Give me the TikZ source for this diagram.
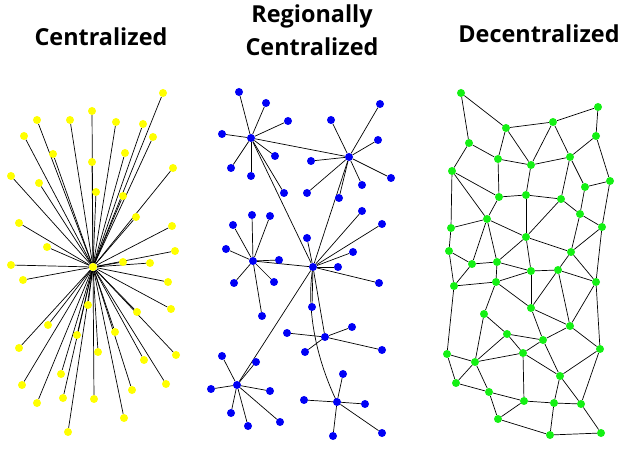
\documentclass[tikz,border=0pt]{standalone}
\usepackage{fontspec}
\setmainfont{Open Sans}
\usetikzlibrary{backgrounds}
\definecolor{ydot}{RGB}{255,255,0}
\definecolor{bdot}{RGB}{0,0,245}
\definecolor{gdot}{RGB}{20,240,20}
\tikzset{
  dotbase/.style={circle,inner sep=0pt,minimum size=8pt,draw=none},
  ynode/.style={dotbase,fill=ydot},
  bnode/.style={dotbase,fill=bdot},
  gnode/.style={dotbase,fill=gdot},
  link/.style={black,line width=0.7pt},
  title/.style={font=\bfseries\fontsize{23.4}{33}\selectfont,align=center,inner sep=0pt}
}
\begin{document}
\begin{tikzpicture}[x=1pt,y=-1pt]
\useasboundingbox (0,0) rectangle (638,449);
\begin{scope}[on background layer]
\fill[white] (0,0) rectangle (638,449);
\end{scope}
% titles
\node[title] (t1) at (101,37) {Centralized};
\node[title] (t2) at (312,30) {Regionally\\Centralized};
\node[title] (t3) at (539,34) {Decentralized};
% ---------------- Centralized ----------------
\node[ynode] (c0) at (93,267) {};
\foreach \x/\y [count=\i] in {163/93,92/111,37/120,70/120,116/122,143/124,24/136,153/137,53/154,125/153,92/162,173/168,11/176,39/183,96/192,123/196,136/217,19/223,172/226,47/247,175/251,11/265,123/262,150/263,23/280,168/282,88/305,171/309,137/312,48/325,77/335,115/332,19/348,98/352,176/355,144/360,61/374,22/385,166/384,132/390,37/403,63/398,94/399,124/418,68/432}
  \node[ynode] (y\i) at (\x,\y) {};
\begin{scope}[on background layer]
  \foreach \i in {1,...,45} \draw[link] (c0) -- (y\i);
\end{scope}
% ---------------- Regionally centralized ----------------
\node[bnode] (hA) at (251,138) {};
\node[bnode] (hB) at (349,157) {};
\node[bnode] (hC) at (313,267) {};
\node[bnode] (hD) at (253,261) {};
\node[bnode] (hE) at (325,337) {};
\node[bnode] (hF) at (337,402) {};
\node[bnode] (hG) at (237,385) {};
\foreach \x/\y [count=\i] in {239/92,266/103,288/121,222/134,275/156,231/168,251/176,284/193}
  \node[bnode] (a\i) at (\x,\y) {};
\foreach \x/\y [count=\i] in {380/104,331/120,378/140,311/161,391/178,362/185,307/193,339/198}
  \node[bnode] (b\i) at (\x,\y) {};
\foreach \x/\y [count=\i] in {307/238,362/211,382/224,353/252,338/267,379/283,312/307}
  \node[bnode] (cc\i) at (\x,\y) {};
\foreach \x/\y [count=\i] in {252/215,270/216,233/225,226/249,279/260,234/283,274/282,262/316}
  \node[bnode] (d\i) at (\x,\y) {};
\foreach \x/\y [count=\i] in {352/327,287/333,305/352,382/350}
  \node[bnode] (e\i) at (\x,\y) {};
\foreach \x/\y [count=\i] in {343/374,304/400,365/404,382/433,333/436}
  \node[bnode] (f\i) at (\x,\y) {};
\foreach \x/\y [count=\i] in {222/356,256/362,211/389,270/391,231/413,248/426,280/422}
  \node[bnode] (g\i) at (\x,\y) {};
\begin{scope}[on background layer]
  \foreach \i in {1,...,8} \draw[link] (hA) -- (a\i);
  \foreach \i in {1,...,8} \draw[link] (hB) -- (b\i);
  \foreach \i in {1,...,7} \draw[link] (hC) -- (cc\i);
  \foreach \i in {1,...,8} \draw[link] (hD) -- (d\i);
  \foreach \i in {1,...,4} \draw[link] (hE) -- (e\i);
  \foreach \i in {1,...,5} \draw[link] (hF) -- (f\i);
  \foreach \i in {1,...,7} \draw[link] (hG) -- (g\i);
  \draw[link] (hA) -- (hB);
  \draw[link] (hA) -- (hC);
  \draw[link] (hB) -- (hC);
  \draw[link] (hD) -- (hC);
  \draw[link] (hC) -- (hE);
  \draw[link] (hC) -- (hG);
  \draw[link] (hC.center) .. controls (307,300) and (312,350) .. (hF.center);
\end{scope}
% ---------------- Decentralized ----------------
\foreach \x/\y [count=\i] in {461/93,598/107,506/128,553/122,596/136,469/143,498/159,531/165,570/157,452/171,610/181,585/187,499/197,526/195,561/199,580/214,487/219,451/228,602/227,526/237,449/251,571/252,472/264,497/262,531/271,558/270,596/282,454/286,496/282,531/308,484/314,570/326,507/334,543/340,447/354,475/362,523/353,600/349,560/376,456/383,489/392,524/401,554/403,581/404,498/419,550/435,601/433}
  \node[gnode] (n\i) at (\x,\y) {};
\begin{scope}[on background layer]
  \foreach \a/\b in {1/3,1/6,3/4,4/2,2/5,3/7,3/8,4/8,4/9,5/9,5/11,6/7,6/10,7/8,8/9,7/13,8/14,9/12,9/15,12/11,12/16,11/19,10/13,10/17,10/18,13/14,14/15,13/17,14/20,15/16,15/20,16/19,16/22,17/18,17/20,17/23,17/24,18/21,20/22,20/24,20/25,19/22,19/27,22/27,22/26,21/23,21/28,23/24,23/28,24/25,24/29,25/26,25/29,25/30,26/27,26/30,26/32,27/32,27/38,28/29,28/35,29/31,29/30,30/32,30/34,31/33,31/36,32/34,32/38,33/34,33/37,33/36,34/37,34/39,35/36,35/40,36/37,36/40,36/41,37/39,37/42,38/39,38/44,39/43,39/44,40/41,41/42,41/45,42/43,42/45,43/44,43/46,44/47,45/46,46/47}
    \draw[link] (n\a) -- (n\b);
\end{scope}
\end{tikzpicture}
\end{document}
